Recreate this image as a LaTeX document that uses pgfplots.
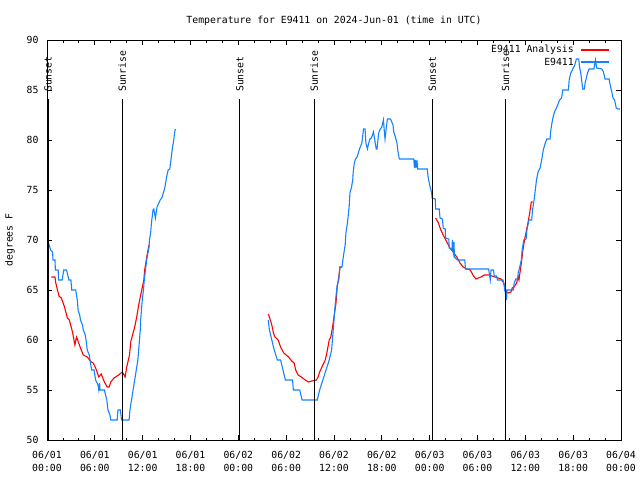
\documentclass[border=0pt]{standalone}
\usepackage{fontspec}
\setmainfont{DejaVu Sans Mono}
\usepackage{pgfplots}
\pgfplotsset{compat=1.18}
\definecolor{obsblue}{RGB}{20,130,255}
\definecolor{anared}{RGB}{255,0,0}
\newcommand{\gfont}{\fontsize{9.8bp}{11bp}\selectfont}
\begin{document}
\begin{tikzpicture}[font=\gfont]
\useasboundingbox (-47bp,-40bp) rectangle (593bp,440bp);
\begin{axis}[
  at={(0,0)}, anchor=south west,
  scale only axis, width=574bp, height=400bp,
  xmin=0, xmax=72, ymin=50, ymax=90,
  clip=false,
  /pgf/number format/assume math mode=true,
  axis line style={black, line width=0.8bp},
  tick style={black, line width=0.8bp},
  tick align=inside,
  major tick length=5bp, minor tick length=2.5bp,
  xtick={0,6,...,72},
  minor x tick num=2,
  xticklabels={{06/01\\00:00},{06/01\\06:00},{06/01\\12:00},{06/01\\18:00},{06/02\\00:00},{06/02\\06:00},{06/02\\12:00},{06/02\\18:00},{06/03\\00:00},{06/03\\06:00},{06/03\\12:00},{06/03\\18:00},{06/04\\00:00}},
  xticklabel style={align=center, font=\fontsize{9.8bp}{13bp}\selectfont, yshift=-8bp},
  ytick={50,55,...,90},
  yticklabel style={font=\gfont, xshift=-5bp},
  title={Temperature for E9411 on 2024-Jun-01 (time in UTC)},
  title style={at={(0.5,1)}, anchor=center, yshift=13bp, font=\gfont},
  ylabel={degrees F},
  ylabel style={at={(axis description cs:-0.0645,0.5)}, anchor=center, font=\gfont},
]
% Analysis (red)
\addplot[anared, line width=1.1bp] coordinates {
(0.55,66.3)(1.0,66.3)(1.1,65.7)(1.5,64.4)(1.8,64.2)(2.2,63.3)(2.55,62.2)(2.8,62)(3.2,60.8)(3.5,59.5)(3.7,60.3)(3.85,60)(4.2,59.2)(4.55,58.5)(5.05,58.3)(5.55,57.8)(5.8,57.7)(6.1,57.2)(6.5,56.3)(6.8,56.6)(7.2,55.8)(7.55,55.3)(7.8,55.3)(8.0,55.8)(8.4,56.2)(8.8,56.4)(9.45,56.8)(9.8,56.3)(10.0,57.3)(10.35,58.5)(10.5,59.8)(10.7,60.4)(11.0,61.3)(11.25,62.3)(11.55,63.7)(11.75,64.5)(12.15,66)(12.25,67)(12.6,68.7)(12.8,69.5)
};
\addplot[anared, line width=1.1bp] coordinates {
(27.76,62.6)(27.9,62.3)(28.2,61.5)(28.4,60.7)(28.6,60.3)(29.0,60)(29.3,59.3)(29.7,58.7)(30.3,58.3)(30.7,57.9)(31.0,57.7)(31.2,57)(31.5,56.5)(31.9,56.3)(32.4,56)(32.8,55.8)(33.2,55.9)(33.8,56)(34.0,56.3)(34.2,56.8)(34.6,57.5)(34.9,58)(35.1,58.7)(35.4,60)(35.6,60.3)(35.8,61.2)(36.0,62.3)(36.25,63.7)(36.4,65.3)(36.6,66.3)(36.75,67.3)(37.0,67.3)
};
\addplot[anared, line width=1.1bp] coordinates {
(48.75,72.2)(49.1,71.7)(49.4,71)(49.7,70.5)(50.15,69.8)(50.55,69.2)(50.95,68.8)(51.4,68.3)(51.8,67.7)(52.2,67.3)(52.65,67.1)(53.1,67)(53.5,66.4)(53.8,66.1)(54.1,66.2)(54.45,66.3)(54.85,66.5)(55.4,66.5)(55.8,66.4)(56.2,66.3)(56.6,66.2)(56.95,66.1)(57.3,65.7)(57.4,65.3)(57.65,64.8)(57.85,64.7)(58.2,64.8)(58.35,65.2)(58.6,65.3)(58.9,65.7)(59.1,66.3)(59.2,66)(59.5,67.7)(59.7,69)(59.9,70)(60.15,71)(60.35,71.8)(60.55,72.7)(60.75,73.8)(60.9,73.8)
};
% Observations (blue)
\addplot[obsblue, line width=1.1bp] coordinates {
(0.05,70)(0.35,69.3)(0.45,69)(0.7,68.8)(0.75,68)(1.0,68)(1.05,67)(1.4,67)(1.45,66)(1.9,66)(2.1,67)(2.45,67)(2.6,66.5)(2.75,66)(3.0,66)(3.1,65)(3.6,65)(3.8,64)(3.9,63)(4.1,62.5)(4.2,62)(4.45,61.5)(4.55,61)(4.8,60.5)(4.9,60)(5.05,59)(5.3,58.5)(5.4,58)(5.6,57)(5.9,57)(6.0,56.5)(6.1,56)(6.4,55.5)(6.5,55)(6.6,55.7)(6.65,55)(7.2,55)(7.35,54.5)(7.5,54)(7.65,53)(7.9,52.5)(8.0,52)(8.8,52)(8.9,53)(9.2,53)(9.35,52)(10.3,52)(10.4,53)(10.6,54)(10.8,55)(11.0,56)(11.2,57)(11.4,58)(11.5,59)(11.6,60)(11.7,61)(11.75,62)(11.85,63)(11.95,64)(12.1,65)(12.2,66)(12.35,67)(12.5,68)(12.8,69.3)(12.85,70)(13.0,70.7)(13.1,71.7)(13.3,73)(13.4,73.1)(13.6,72.2)(13.8,73.3)(14.2,74)(14.4,74.2)(14.6,74.7)(14.8,75.3)(15.0,76.3)(15.2,77)(15.4,77.1)(15.5,77.7)(15.65,78.7)(15.75,79.3)(15.9,80)(16.0,80.7)(16.1,81.1)
};
\addplot[obsblue, line width=1.1bp] coordinates {
(27.75,62)(27.9,61)(28.2,60)(28.5,59)(28.9,58)(29.3,58)(29.6,57)(29.9,56)(30.8,56)(30.9,55)(31.7,55)(32.0,54)(33.9,54)(34.2,55)(34.6,56)(35.0,57)(35.4,58)(35.7,59)(35.9,61)(36.05,62.5)(36.2,64)(36.4,65.5)(36.6,66)(36.75,67.3)(37.0,67.3)(37.2,68.5)(37.4,69.5)(37.5,70.7)(37.7,71.8)(37.9,73.3)(38.0,74.7)(38.2,75.3)(38.35,76)(38.4,76.7)(38.55,77.7)(38.7,78.1)(38.9,78.3)(39.2,79.1)(39.5,79.7)(39.7,81.1)(39.9,81.1)(40.0,79.7)(40.2,79.1)(40.3,79.5)(40.5,80.1)(40.7,80.2)(40.95,80.8)(41.05,80.3)(41.3,79.1)(41.4,79.1)(41.6,80.7)(41.8,81.1)(42.0,81.3)(42.2,82)(42.3,81)(42.4,80.1)(42.6,81.5)(42.7,82.1)(43.1,82.1)(43.4,81.5)(43.5,80.8)(43.7,80.3)(43.9,79.7)(44.0,79)(44.1,78.5)(44.2,78.1)(46.0,78.1)(46.1,77.2)(46.2,78)(46.3,77.2)(46.4,78)(46.5,77.1)(47.7,77.1)(47.8,76.3)(48.0,75.5)(48.25,74.7)(48.3,74.2)(48.7,74.1)(48.75,73.1)(49.2,73.1)(49.3,72.2)(49.6,72.1)(49.7,71.2)(49.95,71.1)(50.0,70.2)(50.4,70.1)(50.45,69.2)(50.8,69.1)(50.85,70)(50.9,69)(51.0,68.6)(51.05,69.8)(51.1,68.5)(51.2,68.2)(51.5,68)(52.4,68)(52.5,67.1)(55.4,67.1)(55.6,66)(55.7,67)(56.0,67)(56.1,66.4)(56.4,66.4)(56.5,66)(57.2,66)(57.35,65.5)(57.4,65)(57.6,64.5)(57.65,64)(57.7,65)(58.5,65)(58.6,65.7)(58.8,66.1)(59.05,66.1)(59.1,66.7)(59.3,67.3)(59.5,68)(59.6,69)(59.8,70)(60.1,70.1)(60.2,71)(60.45,72)(60.8,72)(60.9,73)(61.1,74)(61.25,75)(61.4,76)(61.6,76.8)(61.85,77.2)(62.05,78)(62.25,79)(62.5,79.7)(62.7,80.1)(63.1,80.1)(63.2,81)(63.4,82)(63.65,82.8)(63.9,83.2)(64.3,84)(64.55,84.2)(64.7,85)(65.4,85)(65.5,86)(65.7,86.7)(65.9,87)(66.2,87.5)(66.4,88.1)(66.7,88.1)(66.8,87.3)(66.95,86.7)(67.2,85.1)(67.4,85.1)(67.5,85.7)(67.8,86.7)(68.0,87.1)(68.6,87.1)(68.8,88)(68.95,87.2)(69.6,87.1)(69.8,86.8)(70.0,86.1)(70.5,86.1)(70.7,85.3)(70.85,84.8)(71.0,84.2)(71.2,84)(71.4,83.2)(71.6,83.1)(71.85,83.1)
};
% Sunset / sunrise markers
\addplot[black, line width=1.1bp] coordinates {(0.12,50) (0.12,84.1)};
\addplot[black, line width=1.1bp] coordinates {(9.45,50) (9.45,84.1)};
\addplot[black, line width=1.1bp] coordinates {(24.2,50) (24.2,84.1)};
\addplot[black, line width=1.1bp] coordinates {(33.53,50) (33.53,84.1)};
\addplot[black, line width=1.1bp] coordinates {(48.33,50) (48.33,84.1)};
\addplot[black, line width=1.1bp] coordinates {(57.5,50) (57.5,84.1)};
\node[rotate=90, anchor=west, inner sep=0pt, font=\gfont] at (axis cs:0.12,84.8) {Sunset};
\node[rotate=90, anchor=west, inner sep=0pt, font=\gfont] at (axis cs:9.45,84.8) {Sunrise};
\node[rotate=90, anchor=west, inner sep=0pt, font=\gfont] at (axis cs:24.2,84.8) {Sunset};
\node[rotate=90, anchor=west, inner sep=0pt, font=\gfont] at (axis cs:33.53,84.8) {Sunrise};
\node[rotate=90, anchor=west, inner sep=0pt, font=\gfont] at (axis cs:48.33,84.8) {Sunset};
\node[rotate=90, anchor=west, inner sep=0pt, font=\gfont] at (axis cs:57.5,84.8) {Sunrise};
% Legend
\addplot[anared, line width=1.1bp] coordinates {(66.98,89.0) (70.5,89.0)};
\addplot[obsblue, line width=1.1bp] coordinates {(66.98,87.8) (70.5,87.8)};
\node[anchor=east, inner sep=0pt, font=\gfont] at (axis cs:66.1,89.0) {E9411 Analysis};
\node[anchor=east, inner sep=0pt, font=\gfont] at (axis cs:66.1,87.8) {E9411};
\end{axis}
\end{tikzpicture}
\end{document}
